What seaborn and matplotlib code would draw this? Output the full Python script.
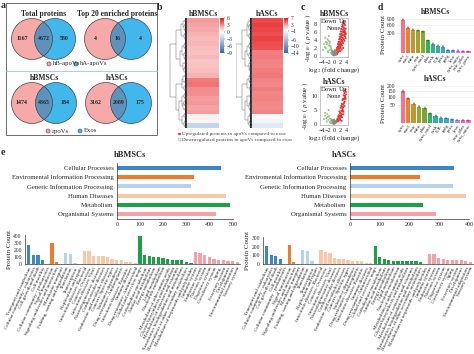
import numpy as np
import pandas as pd
import matplotlib.pyplot as plt
import seaborn as sns
from matplotlib.patches import Circle, Rectangle
from matplotlib.colors import LinearSegmentedColormap
from matplotlib.collections import LineCollection

# ---------------- data ----------------
# a: venn counts
venn_titles = ['Total proteins', 'Top 20 enriched proteins', 'hBMSCs', 'hASCs']
venn_left = [1167, 4, 1474, 3162]
venn_both = [4672, 16, 4365, 2089]
venn_right = [580, 4, 184, 175]
venn_legend_top = ['hB-apoVs', 'hA-apoVs']
venn_legend_bottom = ['apoVs', 'Exos']

# b: heatmap rows (log2 fold change, apoVs vs exos)
heat_bm = [2.6, 2.4, 2.2, 2.0, 1.8, 1.9, 1.7, 1.6, 1.8, 1.5, 1.6, 1.7,
           2.0, 3.4, 3.6, 3.0, 2.9, 2.6, 2.7, 2.4, 2.5, 0.4, 0.2, -2.5]
heat_ha = [5.5, 5.8, 5.6, 5.3, 5.7, 5.4, 5.2, 3.9, 4.0, 3.8, 3.7, 3.9,
           4.1, 3.8, 3.6, 3.9, 3.7, 3.8, 3.6, 3.5, 3.7, 0.2, -0.8, -2.0]
heat_ticks_bm = [6, 3, 0, -3, -6, -9]
heat_ticks_ha = [7, 3, -1, -6, -10, -14]

# c: volcano points
bm_up_x = [0.6, 0.8, 1.0, 1.1, 1.3, 1.4, 1.5, 1.6, 1.7, 1.8, 1.9, 2.0, 2.1, 2.2, 2.3, 2.4, 2.5, 2.6, 2.7, 2.8,
           2.9, 3.0, 3.1, 3.2, 3.3, 3.4, 3.5, 3.6, 3.8, 1.2, 1.6, 2.0, 2.4, 2.8, 3.2, 3.6, 2.2, 2.6, 3.0, 1.9,
           1.0, 1.4, 1.8, 2.2, 2.6, 3.0, 3.4, 3.8, 2.0, 2.4, 2.8, 3.2, 3.6, 1.5, 2.5, 3.5, 2.3, 2.7, 3.1, 3.9,
           0.9, 1.3, 1.7, 2.1, 2.9, 3.3, 3.7, 2.0, 3.0, 2.5]
bm_up_y = [1.0, 1.5, 2.0, 1.6, 3.0, 2.4, 3.5, 2.8, 4.2, 3.6, 4.8, 5.5, 4.3, 6.2, 5.0, 6.8, 5.6, 7.4, 6.1, 8.0,
           6.6, 8.5, 7.2, 8.8, 7.0, 8.2, 6.5, 7.8, 6.9, 2.2, 1.8, 3.0, 4.0, 4.6, 5.2, 5.8, 3.2, 3.8, 4.4, 2.6,
           0.6, 1.1, 1.4, 2.0, 2.6, 3.2, 3.8, 4.5, 2.4, 3.0, 3.6, 4.2, 5.0, 2.0, 4.0, 5.4, 4.8, 5.3, 6.0, 5.6,
           0.4, 0.9, 1.9, 3.4, 7.6, 6.2, 6.0, 1.2, 2.0, 1.6]
bm_dn_x = [-0.6, -0.9, -1.2, -1.5, -1.8, -2.1, -2.4, -2.7, -3.0, -1.0, -1.4, -2.0, -2.6, -3.3, -1.7, -0.8,
           -1.1, -1.6, -2.2, -0.7, -1.3, -1.9, -3.6, -2.9]
bm_dn_y = [1.0, 1.8, 2.5, 3.1, 3.8, 4.2, 2.9, 3.5, 2.2, 0.8, 1.5, 1.2, 1.9, 3.0, 5.0, 0.5,
           2.2, 2.6, 3.3, 1.4, 3.6, 0.9, 1.5, 4.6]
bm_no_x = [-0.5, -0.3, -0.1, 0.0, 0.2, 0.4, 0.5, -0.4, 0.1, 0.3, -0.2, 0.6, -0.6, 0.0, 0.3, -0.3]
bm_no_y = [0.3, 0.6, 0.2, 0.1, 0.4, 0.7, 0.2, 0.9, 0.6, 1.0, 0.5, 0.4, 1.2, 0.8, 1.4, 1.1]

ha_up_x = [0.8, 1.0, 1.2, 1.4, 1.6, 1.8, 2.0, 2.2, 2.4, 2.6, 2.8, 3.0, 3.2, 3.4, 3.6, 3.8, 2.1, 2.5, 2.9, 3.3,
           3.7, 1.5, 1.9, 2.3, 2.7, 3.1, 3.5, 3.9, 2.0, 2.6, 3.0, 3.4,
           1.1, 1.7, 2.2, 2.8, 3.3, 3.8, 2.4, 3.0, 3.6, 1.3, 2.0, 2.7, 3.5, 3.9, 3.1, 2.5]
ha_up_y = [0.8, 1.5, 2.0, 2.8, 3.2, 4.5, 4.0, 5.8, 6.5, 7.2, 8.5, 9.0, 10.2, 11.0, 11.8, 12.3, 2.5, 3.5, 5.0, 7.5,
           9.5, 1.2, 2.0, 3.0, 4.5, 6.0, 8.0, 10.5, 1.5, 2.5, 3.5, 6.5,
           1.0, 2.4, 3.8, 5.6, 8.8, 9.0, 4.8, 7.0, 10.0, 1.8, 3.0, 6.2, 9.4, 11.4, 4.4, 1.2]
ha_dn_x = [-0.7, -1.0, -1.3, -1.6, -1.9, -2.2, -2.5, -2.9, -3.3, -1.1, -1.8, -2.4, -1.4, -2.0, -0.9, -3.0]
ha_dn_y = [0.6, 1.2, 2.0, 2.8, 1.5, 3.5, 2.2, 4.0, 1.8, 0.4, 5.0, 0.9, 0.8, 2.6, 1.7, 3.0]
ha_no_x = [-0.5, -0.3, -0.1, 0.0, 0.2, 0.4, 0.5, -0.2, 0.1, 0.3, -0.6, 0.6, 0.0, -0.4]
ha_no_y = [0.3, 0.6, 0.2, 0.1, 0.4, 0.8, 0.3, 1.0, 0.7, 1.2, 1.4, 0.9, 1.6, 1.1]

# d: subcellular localisation counts
loc_bm = ['cyto', 'nucl', 'mito', 'extr', 'cyto_nucl', 'plas', 'cysk', 'E.R.', 'pero',
          'golg', 'lyso', 'cyto_mito', 'extr_plas', 'cyto_pero']
cnt_bm = [860, 500, 420, 400, 360, 130, 65, 40, 30, 8, 5, 4, 3, 2]
err_bm = [40, 25, 20, 20, 18, 10, 6, 4, 3, 1, 1, 1, 1, 1]
loc_ha = ['cyto', 'nucl', 'extr', 'mito', 'plas', 'cyto_nucl', 'cysk', 'E.R.', 'golg',
          'pero', 'lyso', 'extr_plas', 'cyto_mito']
cnt_ha = [155, 90, 56, 39, 33, 14, 8, 4, 3.5, 2.2, 1.5, 1.5, 1]
err_ha = [10, 6, 4, 3, 3, 2, 1, 1, 0.5, 0.5, 0.3, 0.3, 0.2]

# e: KEGG classes
kegg_l1 = ['Cellular Processes', 'Enviromental Information Processing', 'Genetic Information Processing',
           'Human Diseases', 'Metabolism', 'Organismal Systems']
kegg_l1_bm = [450, 330, 320, 470, 485, 425]
kegg_l1_ha = [350, 235, 345, 390, 245, 290]
kegg_l2 = {
    'Cellular Processes': ['Transport and catabolism', 'Cellular community - eukaryotes', 'Cell growth and death',
                           'Cell motility', 'Cellular community - prokaryotes'],
    'Enviromental Information Processing': ['Signal transduction', 'Signaling molecules and interaction',
                                            'Membrane transport'],
    'Genetic Information Processing': ['Folding, sorting and degradation', 'Translation', 'Transcription',
                                       'Replication and repair'],
    'Human Diseases': ['Infectious diseases: Bacterial', 'Cancers: Overview', 'Infectious diseases: Viral',
                       'Neurodegenerative diseases', 'Cardiovascular diseases', 'Endocrine and metabolic diseases',
                       'Cancers: Specific types', 'Substance dependence', 'Drug resistance: Antineoplastic',
                       'Infectious diseases: Parasitic', 'Immune diseases', 'Drug resistance: Antimicrobial'],
    'Metabolism': ['Global and overview maps', 'Carbohydrate metabolism', 'Amino acid metabolism',
                   'Energy metabolism', 'Lipid metabolism', 'Nucleotide metabolism',
                   'Metabolism of other amino acids', 'Glycan biosynthesis and metabolism',
                   'Metabolism of cofactors and vitamins', 'Xenobiotics biodegradation and metabolism',
                   'Biosynthesis of other secondary metabolites', 'Metabolism of terpenoids and polyketides'],
    'Organismal Systems': ['Immune system', 'Endocrine system', 'Nervous system', 'Digestive system',
                           'Circulatory system', 'Aging', 'Excretory system', 'Development',
                           'Environmental adaptation', 'Sensory system'],
}
kegg_l2_bm = [275, 130, 125, 65, 5,
              310, 25, 3,
              155, 145, 10, 5,
              195, 190, 120, 115, 115, 95, 75, 65, 60, 30, 25, 15,
              410, 130, 110, 105, 100, 85, 70, 65, 65, 60, 25, 10,
              180, 165, 130, 105, 70, 60, 55, 45, 40, 35]
kegg_l2_ha = [205, 105, 90, 60, 3,
              220, 20, 2,
              160, 150, 30, 3,
              160, 140, 125, 70, 60, 55, 50, 40, 35, 30, 15, 10,
              205, 80, 55, 45, 40, 35, 35, 30, 30, 30, 25, 5,
              115, 110, 70, 55, 50, 50, 45, 45, 35, 20]
kegg_colors = ['#3f86c8', '#ec7b2e', '#b8d2ee', '#f9c8a6', '#1e9f4a', '#f4a2aa']

# ---------------- style ----------------
sns.set_theme(style='white')
plt.rcParams['font.family'] = ['Liberation Serif', 'DejaVu Serif']
plt.rcParams['mathtext.fontset'] = 'stix'
plt.rcParams['axes.linewidth'] = 0.5
plt.rcParams['axes.edgecolor'] = '#333333'
plt.rcParams['xtick.major.width'] = 0.4
plt.rcParams['ytick.major.width'] = 0.4
plt.rcParams['xtick.major.size'] = 1.5
plt.rcParams['ytick.major.size'] = 1.5
plt.rcParams['xtick.major.pad'] = 1
plt.rcParams['ytick.major.pad'] = 1

W, H = 474, 354
fig = plt.figure(figsize=(W / 100, H / 100), dpi=100)


def px_axes(x0, y0, x1, y1):
    return fig.add_axes([x0 / W, 1 - y1 / H, (x1 - x0) / W, (y1 - y0) / H])


over = px_axes(0, 0, W, H)
over.set_xlim(0, W)
over.set_ylim(H, 0)
over.axis('off')

for lab, x, y in [('a', 1, 1), ('b', 157, 3), ('c', 301, 3), ('d', 378, 3), ('e', 1, 148)]:
    over.text(x, y, lab, fontsize=7, fontweight='bold', va='top', ha='left')

# ---------------- a: venns ----------------
pink, blue, mix = '#f6a9a9', '#41b7ec', '#5e92bd'
venn_pos = [(32, 55, 39), (105, 131, 39), (32, 56, 103), (106, 131, 103)]
r = 20.5
for i, (cl, cr, cy) in enumerate(venn_pos):
    c1 = Circle((cl, cy), r, facecolor=pink, edgecolor='none')
    over.add_patch(c1)
    over.add_patch(Circle((cr, cy), r, facecolor=blue, edgecolor='none'))
    ov = Circle((cr, cy), r, facecolor=mix, edgecolor='none')
    over.add_patch(ov)
    ov.set_clip_path(c1)
    over.add_patch(Circle((cl, cy), r, fill=False, edgecolor='#444444', lw=0.5))
    over.add_patch(Circle((cr, cy), r, fill=False, edgecolor='#444444', lw=0.5))
    over.text(cl - 10, cy, str(venn_left[i]), fontsize=4.2, fontweight='bold', ha='center', va='center')
    over.text((cl + cr) / 2, cy, str(venn_both[i]), fontsize=4.2, fontweight='bold', ha='center', va='center')
    over.text(cr + 9, cy, str(venn_right[i]), fontsize=4.2, fontweight='bold', ha='center', va='center')
    over.text((cl + cr) / 2 + (0 if i % 2 == 0 else -1), cy - 25, venn_titles[i], fontsize=5.5,
              fontweight='bold', ha='center', va='center')

for labels, ly, xs in [(venn_legend_top, 64, (49, 76)), (venn_legend_bottom, 131, (48, 80))]:
    for lab, lx, col in zip(labels, xs, [pink, blue]):
        over.add_patch(Circle((lx, ly), 2, facecolor=col, edgecolor='#444444', lw=0.4))
        over.text(lx + 3.5, ly, lab, fontsize=4.8, ha='left', va='center')

over.add_patch(Rectangle((6, 3), 151, 132, fill=False, edgecolor='#555555', lw=0.6))
over.plot([6, 157], [71, 71], color='#9cc7e6', lw=0.6)

# ---------------- b: heatmaps ----------------
split_ratio = [0.5, 0.42, 0.58, 0.35, 0.62, 0.47, 0.55, 0.4]


def dendro_segments(lo, hi, k, segs):
    if hi - lo == 1:
        return lo + 0.5, 0.0
    rr = split_ratio[k % len(split_ratio)]
    mid = lo + min(hi - lo - 1, max(1, int(round((hi - lo) * rr))))
    y1, h1 = dendro_segments(lo, mid, k + 1, segs)
    y2, h2 = dendro_segments(mid, hi, k + 3, segs)
    h = (hi - lo) ** 0.7
    segs += [[(h1, y1), (h, y1)], [(h2, y2), (h, y2)], [(h, y1), (h, y2)]]
    return (y1 + y2) / 2, h


def heat_panel(vals, ticks, title, hx0, hx1, dx0):
    vmin, vmax = min(ticks), max(ticks)
    frac = -vmin / (vmax - vmin)
    cmap = LinearSegmentedColormap.from_list('rb', [(0, '#2a6bb2'), (frac, '#ffffff'), (1, '#e6191b')])
    ax = px_axes(hx0, 18, hx1, 128)
    cax = px_axes(hx1 + 1, 18, hx1 + 5, 53)
    sns.heatmap(pd.DataFrame({'fc': vals}), ax=ax, cmap=cmap, vmin=vmin, vmax=vmax, cbar_ax=cax,
                xticklabels=False, yticklabels=False, cbar_kws={'ticks': ticks})
    ax.set_xlabel('')
    ax.set_ylabel('')
    ax.set_title(title, fontsize=5.5, fontweight='bold', pad=1.5)
    cax.tick_params(labelsize=4, length=1, pad=0.8, width=0.3)
    cb = ax.collections[0].colorbar
    if cb is not None:
        cb.outline.set_visible(False)
    dax = px_axes(dx0, 18, hx0, 128)
    n = 512
    segs = []
    _, hmax = dendro_segments(0, n, 0, segs)
    dax.add_collection(LineCollection(segs, colors='#555555', linewidths=0.3))
    dax.add_patch(Rectangle((0, 0), hmax * 0.12, n, facecolor='#111111', edgecolor='none'))
    dax.set_xlim(hmax * 1.03, 0)
    dax.set_ylim(n, 0)
    dax.axis('off')


heat_panel(heat_bm, heat_ticks_bm, 'hBMSCs', 187, 219, 169)
heat_panel(heat_ha, heat_ticks_ha, 'hASCs', 252, 283, 236)

over.add_patch(Rectangle((178, 132.5), 2.6, 2.6, facecolor='#e8494a', edgecolor='#888888', lw=0.2))
over.add_patch(Rectangle((178, 138), 2.6, 2.6, facecolor='#dfe9f5', edgecolor='#888888', lw=0.2))
over.text(182, 134, 'Upregulated proteins in apoVs compared to exos', fontsize=3.8, va='center', color='#444444')
over.text(182, 139.5, 'Downregulated proteins in apoVs compared to exos', fontsize=3.8, va='center', color='#444444')

# ---------------- c: volcano ----------------
vol_pal = {'Up': '#e8312f', 'Down': '#98c48b', 'None': '#8c8c8c'}


def volcano(box, ux, uy, dx, dy, nx, ny, ymax, yticks, title):
    ax = px_axes(*box)
    df = pd.DataFrame({'fc': ux + dx + nx, 'p': uy + dy + ny,
                       'grp': ['Up'] * len(ux) + ['Down'] * len(dx) + ['None'] * len(nx)})
    sns.scatterplot(data=df, x='fc', y='p', hue='grp', palette=vol_pal, s=2.2, linewidth=0,
                    legend=False, ax=ax)
    ax.set_xlim(-4.6, 4.6)
    ax.set_ylim(-0.3, ymax)
    ax.set_xticks([-4, -2, 0, 2, 4])
    ax.set_yticks(yticks)
    ax.tick_params(labelsize=4.5, length=1.2, pad=0.8)
    for s in ax.spines.values():
        s.set_color('#999999')
        s.set_linewidth(0.4)
    ax.set_xlabel('log$_2$ (fold change)', fontsize=5, labelpad=0.5)
    ax.set_ylabel('-log$_{10}$ ( $p$ value )', fontsize=5, labelpad=0.5)
    ax.set_title(title, fontsize=5.5, fontweight='bold', pad=1.5)
    ax.text(0.03, 0.98, 'Down', transform=ax.transAxes, fontsize=4.8, va='top', ha='left')
    ax.text(0.97, 0.98, 'Up', transform=ax.transAxes, fontsize=4.8, va='top', ha='right')
    ax.text(0.5, 0.72, 'None', transform=ax.transAxes, fontsize=4.8, va='center', ha='center')


volcano((320, 18, 348, 57), bm_up_x, bm_up_y, bm_dn_x, bm_dn_y, bm_no_x, bm_no_y, 9.6, [0, 2, 4, 6, 8], 'hBMSCs')
volcano((320, 86, 348, 125), ha_up_x, ha_up_y, ha_dn_x, ha_dn_y, ha_no_x, ha_no_y, 13.5, [0, 5, 10], 'hASCs')

# ---------------- d: localisation bars ----------------


def loc_bars(box, labels, counts, errs, ticks, ytop, title):
    ax = px_axes(*box)
    cols = sns.color_palette('husl', len(labels))
    sns.barplot(x=labels, y=counts, hue=labels, palette=cols, legend=False, width=0.8, saturation=1,
                linewidth=0, edgecolor='none', ax=ax)
    ax.errorbar(range(len(labels)), counts, yerr=errs, fmt='none', ecolor='#333333', elinewidth=0.3, capsize=0.6,
                capthick=0.3)
    ax.set_yscale('function', functions=(lambda v: np.sqrt(np.clip(v, 0, None)), lambda v: v ** 2))
    ax.set_ylim(0, ytop)
    ax.set_yticks(ticks)
    ax.set_yticklabels([str(t) for t in ticks])
    ax.minorticks_off()
    ax.grid(axis='y', color='#e6e6e6', lw=0.4)
    ax.set_axisbelow(True)
    for s in ax.spines.values():
        s.set_visible(False)
    ax.tick_params(axis='y', labelsize=4, length=0, pad=1)
    ax.tick_params(axis='x', labelsize=3.6, length=0, pad=0.5)
    for t in ax.get_xticklabels():
        t.set_rotation(55)
        t.set_ha('right')
        t.set_rotation_mode('anchor')
    ax.set_ylabel('Protein Count', fontsize=5, labelpad=1)
    ax.set_title(title, fontsize=5.5, fontweight='bold', pad=2)


loc_bars((397, 17, 474, 53), loc_bm, cnt_bm, err_bm, [300, 600, 900], 1000, 'hBMSCs')
loc_bars((397, 84, 474, 123), loc_ha, cnt_ha, err_ha, [50, 100, 150, 200], 225, 'hASCs')

# ---------------- e: KEGG ----------------
over.text(130, 155, 'hBMSCs', fontsize=6, fontweight='bold', ha='center', va='center')
over.text(344, 155, 'hASCs', fontsize=6, fontweight='bold', ha='center', va='center')
pal_l1 = dict(zip(kegg_l1, kegg_colors))


def kegg_top(box, counts, xmax, xticks):
    ax = px_axes(*box)
    sns.barplot(x=counts, y=kegg_l1, hue=kegg_l1, palette=pal_l1, orient='h', width=0.4, saturation=1,
                linewidth=0, edgecolor='none', legend=False, ax=ax)
    ax.set_xlim(0, xmax)
    ax.set_xticks(xticks)
    ax.tick_params(axis='y', labelsize=4.9, length=1.5, pad=1)
    ax.tick_params(axis='x', labelsize=4.3, length=1.5, pad=1)
    sns.despine(ax=ax)
    ax.set_xlabel('')
    ax.set_ylabel('')


kegg_top((117, 163, 233, 219), kegg_l1_bm, 500, [0, 100, 200, 300, 400, 500])
kegg_top((350, 163, 469, 219), kegg_l1_ha, 400, [0, 100, 200, 300, 400])

l2_names = [n for c in kegg_l1 for n in kegg_l2[c]]
l2_group = [c for c in kegg_l1 for n in kegg_l2[c]]


def kegg_bottom(box, counts, ymax, yticks):
    ax = px_axes(*box)
    df = pd.DataFrame({'name': l2_names, 'count': counts, 'grp': l2_group})
    sns.barplot(data=df, x='name', y='count', hue='grp', palette=pal_l1, dodge=False, width=0.72,
                saturation=1, linewidth=0, edgecolor='none', legend=False, ax=ax)
    ax.set_ylim(0, ymax)
    ax.set_yticks(yticks)
    ax.set_xlim(-0.8, len(l2_names) - 0.4)
    ax.tick_params(axis='y', labelsize=4, length=1.5, pad=0.8)
    ax.tick_params(axis='x', labelsize=3.7, length=1.2, pad=0.5)
    for t in ax.get_xticklabels():
        t.set_rotation(65)
        t.set_ha('right')
        t.set_rotation_mode('anchor')
    sns.despine(ax=ax)
    ax.set_xlabel('')
    ax.set_ylabel('Protein Count', fontsize=5, labelpad=1)


kegg_bottom((25, 235, 240, 264), kegg_l2_bm, 420, [0, 100, 200, 300, 400])
kegg_bottom((263, 237, 473, 264), kegg_l2_ha, 310, [0, 100, 200, 300])

fig.savefig('out.png', dpi=100, facecolor='white')
